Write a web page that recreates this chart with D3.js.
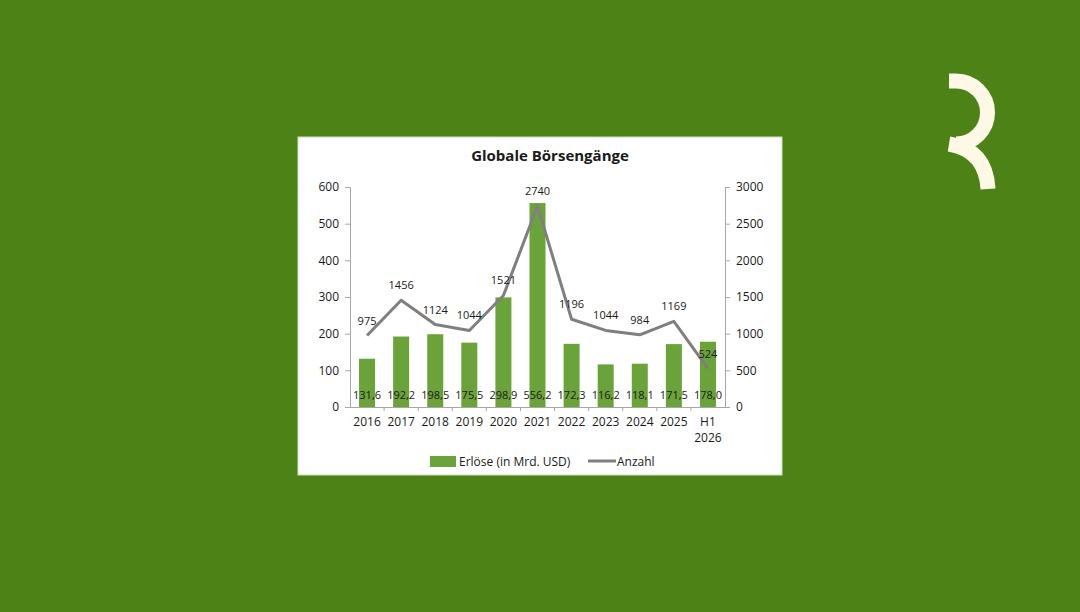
<!DOCTYPE html>
<html><head><meta charset="utf-8">
<script src="https://cdn.jsdelivr.net/npm/d3@7"></script>
<style>html,body{margin:0;padding:0;background:#4d8217;}svg{display:block;}</style>
</head><body>
<svg id="c" width="1080" height="612"></svg>
<script>
const categories = ["2016","2017","2018","2019","2020","2021","2022","2023","2024","2025","H1 2026"];
const revenues = [131.6,192.2,198.5,175.5,298.9,556.2,172.3,116.2,118.1,171.5,178.0];
const counts = [975,1456,1124,1044,1521,2740,1196,1044,984,1169,524];
const leftTicks = [0,100,200,300,400,500,600];
const rightTicks = [0,500,1000,1500,2000,2500,3000];

const svg = d3.select("#c");
const font = "'Open Sans', sans-serif";
svg.append("rect").attr("width",1080).attr("height",612).attr("fill","#4d8217");

// logo
svg.append("path").attr("d","M949 81 L956 81 A31.5 31.5 0 0 1 956 144").attr("fill","none").attr("stroke","#fdf9e6").attr("stroke-width",15);
svg.append("path").attr("d","M949 144 Q986 150 988 189").attr("fill","none").attr("stroke","#fdf9e6").attr("stroke-width",15);

// chart box
svg.append("rect").attr("x",298).attr("y",137).attr("width",484).attr("height",338).attr("fill","#ffffff").attr("stroke","#c9e2b3").attr("stroke-width",1);

svg.append("text").attr("x",550).attr("y",161).attr("text-anchor","middle").attr("font-family",font).attr("font-weight","bold").attr("font-size",15).attr("fill","#1a1a1a").text("Globale Börsengänge");

const xOuter = d3.scaleBand().domain(categories).range([350,725]);
const yL = d3.scaleLinear().domain([0,600]).range([407,187]);
const yR = d3.scaleLinear().domain([0,3000]).range([407,187]);
const cx = i => xOuter(categories[i])+xOuter.bandwidth()/2;

// bars
svg.append("g").selectAll("rect").data(revenues).join("rect")
  .attr("x",(d,i)=>cx(i)-8)
  .attr("width",16)
  .attr("y",d=>yL(d)).attr("height",d=>yL(0)-yL(d)).attr("fill","#6aa33a");

// left axis
const gl = svg.append("g").attr("transform","translate(350,0)")
  .call(d3.axisLeft(yL).tickValues(leftTicks).tickSize(5).tickPadding(6).tickFormat(d3.format("d")));
// right axis
const gr = svg.append("g").attr("transform","translate(725,0)")
  .call(d3.axisRight(yR).tickValues(rightTicks).tickSize(5).tickPadding(6).tickFormat(d3.format("d")));
// bottom axis
const gb = svg.append("g").attr("transform","translate(0,407)")
  .call(d3.axisBottom(xOuter).tickSize(0).tickPadding(10));
[gl,gr,gb].forEach(g=>{
  g.selectAll("path.domain").attr("stroke","#a6a6a6");
  g.selectAll("line").attr("stroke","#a6a6a6");
  g.selectAll("text").attr("font-family",font).attr("font-size",12).attr("fill","#1a1a1a");
});
// category boundary ticks
svg.append("g").selectAll("line").data(categories.slice(1)).join("line")
  .attr("x1",d=>xOuter(d)).attr("x2",d=>xOuter(d)).attr("y1",407).attr("y2",411).attr("stroke","#a6a6a6");
// split H1 2026 label into two lines
gb.selectAll(".tick text").each(function(d){
  if(d.indexOf(" ")>0){
    const parts=d.split(" ");
    const t=d3.select(this); t.text(null);
    t.append("tspan").attr("x",0).text(parts[0]);
    t.append("tspan").attr("x",0).attr("dy","1.4em").text(parts[1]);
  }
});

// line
const line = d3.line().x((d,i)=>cx(i)).y(d=>yR(d));
svg.append("path").datum(counts).attr("d",line).attr("fill","none").attr("stroke","#7f7f7f").attr("stroke-width",3).attr("stroke-linejoin","round");

// bar labels
svg.append("g").selectAll("text").data(revenues).join("text")
  .attr("x",(d,i)=>cx(i))
  .attr("y",399).attr("text-anchor","middle").attr("font-family",font).attr("font-size",11).attr("fill","#1a1a1a")
  .text(d=>d.toFixed(1).replace(".",","));
// count labels
svg.append("g").selectAll("text").data(counts).join("text")
  .attr("x",(d,i)=>cx(i))
  .attr("y",d=>yR(d)-11).attr("text-anchor","middle").attr("font-family",font).attr("font-size",11).attr("fill","#1a1a1a")
  .text(d=>d);

// legend
svg.append("rect").attr("x",430).attr("y",456).attr("width",26).attr("height",11).attr("fill","#6aa33a");
svg.append("text").attr("x",459).attr("y",466).attr("font-family",font).attr("font-size",12).attr("fill","#1a1a1a").text("Erlöse (in Mrd. USD)");
svg.append("line").attr("x1",588).attr("x2",616).attr("y1",461).attr("y2",461).attr("stroke","#7f7f7f").attr("stroke-width",3);
svg.append("text").attr("x",617).attr("y",466).attr("font-family",font).attr("font-size",12).attr("fill","#1a1a1a").text("Anzahl");
</script>
</body></html>
